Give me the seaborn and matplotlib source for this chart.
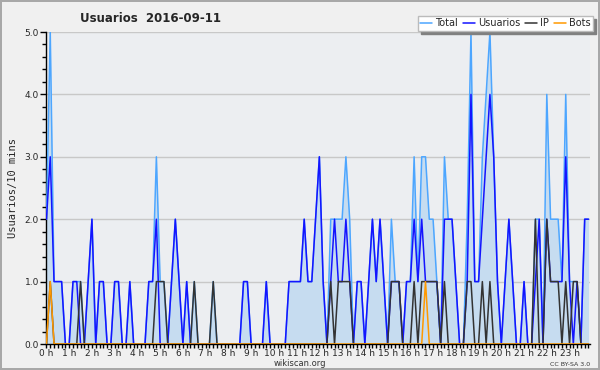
#!/usr/bin/env python3
# -*- coding: utf-8 -*-
"""Usuarios 2016-09-11 (wikiscan) - recriação com seaborn"""
import numpy as np
import pandas as pd
import matplotlib
matplotlib.use('Agg')
import matplotlib.pyplot as plt
import matplotlib.ticker as mticker
import seaborn as sns

# ============ DADOS (intervalos de 10 min, 00:00 -> 23:50) ============
total = [2, 5, 1, 1, 1, 0, 0, 1, 1, 1, 0, 1,
         2, 0, 1, 1, 0, 0, 1, 1, 0, 0, 1, 0,
         0, 0, 0, 1, 1, 3, 1, 1, 0, 1, 2, 1,
         0, 1, 0, 1, 0, 0, 0, 0, 1, 0, 0, 0,
         0, 0, 0, 0, 1, 1, 0, 0, 0, 0, 1, 0,
         0, 0, 0, 0, 1, 1, 1, 1, 2, 1, 1, 2,
         3, 1, 0, 2, 2, 2, 2, 3, 2, 0, 1, 1,
         0, 1, 2, 1, 2, 1, 0, 2, 1, 1, 0, 1,
         1, 3, 1, 3, 3, 2, 2, 1, 0, 3, 2, 2,
         1, 0, 0, 2, 5, 1, 1, 3, 4, 5, 3, 1,
         0, 1, 2, 1, 0, 0, 1, 0, 0, 2, 2, 0,
         4, 2, 2, 2, 1, 4, 1, 1, 1, 0, 2, 2]

usuarios = [2, 3, 1, 1, 1, 0, 0, 1, 1, 0, 0, 1,
            2, 0, 1, 1, 0, 0, 1, 1, 0, 0, 1, 0,
            0, 0, 0, 1, 1, 2, 0, 0, 0, 1, 2, 1,
            0, 1, 0, 0, 0, 0, 0, 0, 0, 0, 0, 0,
            0, 0, 0, 0, 1, 1, 0, 0, 0, 0, 1, 0,
            0, 0, 0, 0, 1, 1, 1, 1, 2, 1, 1, 2,
            3, 1, 0, 1, 2, 1, 1, 2, 1, 0, 1, 1,
            0, 1, 2, 1, 2, 1, 0, 1, 1, 1, 0, 1,
            1, 2, 1, 2, 1, 1, 1, 1, 0, 2, 2, 2,
            1, 0, 0, 1, 4, 1, 1, 2, 3, 4, 3, 1,
            0, 1, 2, 1, 0, 0, 1, 0, 0, 1, 2, 0,
            2, 1, 1, 1, 1, 3, 1, 0, 1, 0, 2, 2]

ip = [0, 1, 0, 0, 0, 0, 0, 0, 0, 1, 0, 0,
      0, 0, 0, 0, 0, 0, 0, 0, 0, 0, 0, 0,
      0, 0, 0, 0, 0, 1, 1, 1, 0, 0, 0, 0,
      0, 0, 0, 1, 0, 0, 0, 0, 1, 0, 0, 0,
      0, 0, 0, 0, 0, 0, 0, 0, 0, 0, 0, 0,
      0, 0, 0, 0, 0, 0, 0, 0, 0, 0, 0, 0,
      0, 0, 0, 1, 0, 1, 1, 1, 1, 0, 0, 0,
      0, 0, 0, 0, 0, 0, 0, 1, 1, 1, 0, 0,
      0, 1, 0, 1, 1, 1, 1, 1, 0, 1, 0, 0,
      0, 0, 0, 1, 1, 0, 0, 1, 0, 1, 0, 0,
      0, 0, 0, 0, 0, 0, 0, 0, 0, 2, 0, 0,
      2, 1, 1, 1, 0, 1, 0, 1, 1, 0, 0, 0]

bots = [0, 1, 0, 0, 0, 0, 0, 0, 0, 0, 0, 0,
        0, 0, 0, 0, 0, 0, 0, 0, 0, 0, 0, 0,
        0, 0, 0, 0, 0, 0, 0, 0, 0, 0, 0, 0,
        0, 0, 0, 0, 0, 0, 0, 0, 0, 0, 0, 0,
        0, 0, 0, 0, 0, 0, 0, 0, 0, 0, 0, 0,
        0, 0, 0, 0, 0, 0, 0, 0, 0, 0, 0, 0,
        0, 0, 0, 0, 0, 0, 0, 0, 0, 0, 0, 0,
        0, 0, 0, 0, 0, 0, 0, 0, 0, 0, 0, 0,
        0, 0, 0, 0, 1, 0, 0, 0, 0, 0, 0, 0,
        0, 0, 0, 0, 0, 0, 0, 0, 0, 0, 0, 0,
        0, 0, 0, 0, 0, 0, 0, 0, 0, 0, 0, 0,
        0, 0, 0, 0, 0, 0, 0, 0, 0, 0, 0, 0]

horas = [f'{h} h' for h in range(24)]
y_ticks = [0, 1, 2, 3, 4, 5]

# ============ ESTILO ============
sns.set_theme(style='white')
plt.rcParams.update({
    'font.family': ['DejaVu Sans'],
    'font.size': 7,
    'axes.linewidth': 1.0,
    'xtick.labelsize': 6.5,
    'ytick.labelsize': 6.5,
})

cores = {'Total': '#4da6ff', 'Usuarios': '#1414ff', 'IP': '#333333', 'Bots': '#ff9900'}

df = pd.DataFrame({
    'hora': np.arange(len(total)) / 6,
    'Total': total,
    'Usuarios': usuarios,
    'IP': ip,
    'Bots': bots,
})

fig = plt.figure(figsize=(6, 3.7), dpi=100, facecolor='#f0f0f0',
                 edgecolor='#a8a8a8', linewidth=1.5)
ax = fig.add_axes([46 / 600, 26 / 370, 544 / 600, 312 / 370])
ax.set_facecolor('#eceef1')

# grade horizontal
for v in y_ticks[1:]:
    ax.axhline(v, color='#c8c8c8', lw=1, zorder=0)

ax.fill_between(df['hora'], df['Total'], color='#c6dcf0', lw=0, zorder=1)
for serie in ['Total', 'Usuarios', 'IP', 'Bots']:
    sns.lineplot(data=df, x='hora', y=serie, color=cores[serie], lw=1.1,
                 ax=ax, label=serie, zorder=3)

ax.set_xlim(-0.02, 23.9)
ax.set_ylim(0, 5)
ax.set_xticks(range(24))
ax.set_xticklabels(horas)
ax.xaxis.set_minor_locator(mticker.MultipleLocator(1 / 6))
ax.set_yticks(y_ticks)
ax.set_yticklabels([f'{v:.1f}' for v in y_ticks])
ax.yaxis.set_minor_locator(mticker.MultipleLocator(0.2))
ax.tick_params(axis='x', which='major', direction='out', length=3, width=1,
               color='black', pad=0.5, bottom=True)
ax.tick_params(axis='y', which='major', direction='out', length=4, width=1,
               color='black', pad=1, left=True)
ax.tick_params(axis='both', which='minor', direction='out', length=3, width=1,
               color='black', bottom=True, left=True)
ax.set_xlabel('')
ax.set_ylabel('Usuarios/10 mins', family='DejaVu Sans Mono', fontsize=7.5, labelpad=5)
for s in ['top', 'right']:
    ax.spines[s].set_visible(False)
for s in ['left', 'bottom']:
    ax.spines[s].set_color('black')

leg = ax.legend(ncol=4, loc='upper right', bbox_to_anchor=(593 / 600, 1 - 16 / 370),
                bbox_transform=fig.transFigure, fontsize=7, frameon=True,
                fancybox=False, shadow={'color': '#808080', 'alpha': 1}, handlelength=1.2,
                handletextpad=0.35, columnspacing=0.5, borderpad=0.25, borderaxespad=0)
leg.get_frame().set_facecolor('white')
leg.get_frame().set_edgecolor('#bbbbbb')

fig.text(0.251, 1 - 18 / 370, 'Usuarios  2016-09-11', ha='center', va='center',
         fontsize=8.5, fontweight='bold')
fig.text(0.5, 1 - 363 / 370, 'wikiscan.org', ha='center', va='center', fontsize=6,
         color='#333333')
fig.text(590 / 600, 1 - 364 / 370, 'CC BY-SA 3.0', ha='right', va='center', fontsize=4.5,
         color='#333333')

fig.savefig('out.png', dpi=100, facecolor=fig.get_facecolor(), edgecolor=fig.get_edgecolor())
